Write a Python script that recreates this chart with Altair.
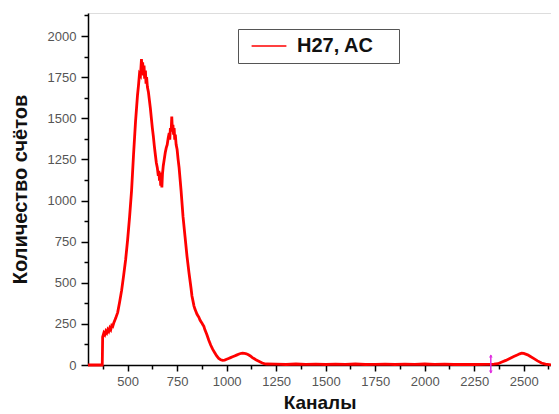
import altair as alt
import pandas as pd

# Spectrum: channel -> counts
channels = [300, 372, 374, 380, 385, 390, 395, 400, 405, 410, 415, 420, 425, 430, 440, 450, 460, 470, 480, 490,
            500, 510, 520, 530, 540, 550, 555, 560, 565, 570, 573, 576, 580, 583, 586, 590, 593, 596, 600,
            605, 610, 615, 620, 625, 630, 635, 640, 645, 650, 655, 658, 661, 664, 667, 670, 673, 676, 680, 685, 690, 695,
            700, 705, 710, 713, 716, 720, 723, 726, 729, 732, 735, 738, 741, 745, 750, 755, 760, 770, 780, 790, 800,
            810, 820, 825, 830, 835, 840, 845, 850, 855, 860, 865, 870, 875, 880, 885, 890, 900, 910, 920, 930, 940,
            950, 960, 970, 980, 990,
            1000, 1010, 1020, 1030, 1040, 1050, 1060, 1070, 1080, 1090, 1100, 1110, 1120,
            1130, 1140, 1150, 1160, 1170, 1180, 1190, 1200, 1250, 1300, 1350, 1400, 1450,
            1500, 1550, 1600, 1650, 1700, 1750, 1800, 1850, 1900, 1950, 2000, 2050, 2100,
            2150, 2200, 2250, 2300, 2350, 2370, 2390, 2410, 2430, 2450, 2470, 2480, 2490, 2500,
            2510, 2520, 2530, 2550, 2570, 2590, 2610, 2630, 2638]
counts = [0, 0, 170, 195, 185, 205, 195, 215, 205, 225, 215, 240, 235, 255, 285, 320, 385, 455, 545, 640,
          760, 900, 1060, 1280, 1480, 1640, 1700, 1770, 1760, 1860, 1780, 1840, 1760, 1820, 1740, 1790, 1710, 1750, 1690,
          1660, 1610, 1560, 1500, 1440, 1390, 1330, 1280, 1230, 1200, 1150, 1180, 1120, 1170, 1090, 1150, 1080, 1160, 1210, 1250, 1290, 1320,
          1340, 1380, 1410, 1370, 1440, 1420, 1510, 1430, 1460, 1400, 1440, 1370, 1400, 1340, 1310, 1250, 1200, 1060, 900, 780, 660,
          560, 470, 420, 390, 360, 340, 325, 310, 300, 290, 275, 265, 255, 245, 235, 215, 185, 150, 120, 95, 75,
          55, 40, 32, 28, 30,
          35, 40, 45, 50, 55, 60, 65, 70, 72, 70, 68, 62, 55,
          45, 38, 30, 24, 18, 12, 8, 6, 5, 3, 6, 4, 5,
          3, 5, 4, 6, 3, 4, 5, 3, 5, 4, 6, 4, 5,
          3, 4, 3, 4, 5, 8, 18, 28, 40, 52, 62, 68, 72, 70,
          66, 62, 55, 40, 25, 12, 5, 2, 1]
series_name = "H27, AC"

marker_channel = [2334]

x_ticks = [375, 500, 625, 750, 875, 1000, 1125, 1250, 1375, 1500, 1625, 1750, 1875,
           2000, 2125, 2250, 2375, 2500, 2625]
y_ticks = [0, 125, 250, 375, 500, 625, 750, 875, 1000, 1125, 1250, 1375, 1500, 1625,
           1750, 1875, 2000, 2125]

df = pd.DataFrame({"ch": channels, "cnt": counts, "series": series_name})
mk = pd.DataFrame({"ch": marker_channel})

FONT = "Liberation Sans"
MAJOR = "abs(datum.value % 250) < 0.5"

x_axis = alt.Axis(
    values=x_ticks,
    labelExpr=MAJOR + " ? format(datum.value, 'd') : ''",
    title="Каналы",
    titleFontSize=19, titleFontWeight="bold", titleFont=FONT, titleColor="#111",
    titlePadding=5,
    labelFontSize=13, labelFont=FONT, labelColor="#555", labelPadding=4,
    tickSize={"condition": {"test": MAJOR, "value": 6}, "value": 4},
    tickColor="#000", tickWidth=1.5, domainColor="#000", domainWidth=1.5,
    grid=False, labelFlush=False, labelOverlap=False, orient="bottom",
)
y_axis = alt.Axis(
    values=y_ticks,
    labelExpr=MAJOR + " ? format(datum.value, 'd') : ''",
    title="Количество счётов",
    titleFontSize=20, titleFontWeight="bold", titleFont=FONT, titleColor="#111",
    titlePadding=17,
    labelFontSize=13, labelFont=FONT, labelColor="#555", labelPadding=5,
    tickSize={"condition": {"test": MAJOR, "value": 7}, "value": 4},
    tickColor="#000", tickWidth=1.5, domainColor="#000", domainWidth=1.5,
    grid=False, labelFlush=False, labelOverlap=False, orient="left",
)

xs = alt.Scale(domain=[300, 2638], nice=False, zero=False)
ys = alt.Scale(domain=[0, 2140], nice=False)

line = alt.Chart(df).mark_line(strokeWidth=2.8, clip=False).encode(
    x=alt.X("ch:Q", scale=xs, axis=x_axis),
    y=alt.Y("cnt:Q", scale=ys, axis=y_axis),
    color=alt.Color(
        "series:N",
        scale=alt.Scale(range=["#ff0000"]),
        legend=alt.Legend(
            title="x", titleOrient="right", titleOpacity=0, titleFontSize=12,
            titlePadding=11,
            orient="none", legendX=150, legendY=16,
            symbolType="M-2.9,0H2.9", symbolSize=144, symbolStrokeWidth=1.6,
            symbolStrokeColor="#d01818",
            symbolOffset=14, labelOffset=18,
            labelFontSize=20, labelFontWeight="bold", labelFont=FONT, labelColor="#111",
            padding=7, strokeColor="#555", fillColor="#fff",
        ),
    ),
)

rule = alt.Chart(mk).mark_rule(color="#e030e0", strokeWidth=1.5).encode(
    x=alt.X("ch:Q", scale=xs, axis=None), y=alt.value(342), y2=alt.value(360)
)
tri_up = alt.Chart(mk).mark_point(shape="triangle-up", filled=True, size=14,
                                   color="#e030e0", opacity=1).encode(
    x=alt.X("ch:Q", scale=xs, axis=None), y=alt.value(343)
)
tri_dn = alt.Chart(mk).mark_point(shape="triangle-down", filled=True, size=14,
                                   color="#e030e0", opacity=1).encode(
    x=alt.X("ch:Q", scale=xs, axis=None), y=alt.value(359)
)

chart = alt.layer(line, rule, tri_up, tri_dn).resolve_axis(x="independent").properties(
    width=463, height=352,
    autosize=alt.AutoSizeParams(type="none"),
    padding={"left": 80, "top": 5, "right": 0, "bottom": 49},
).configure_view(stroke=None).configure(background="#ffffff")

chart.save("out.html", embed_options={"renderer": "svg", "actions": False})
